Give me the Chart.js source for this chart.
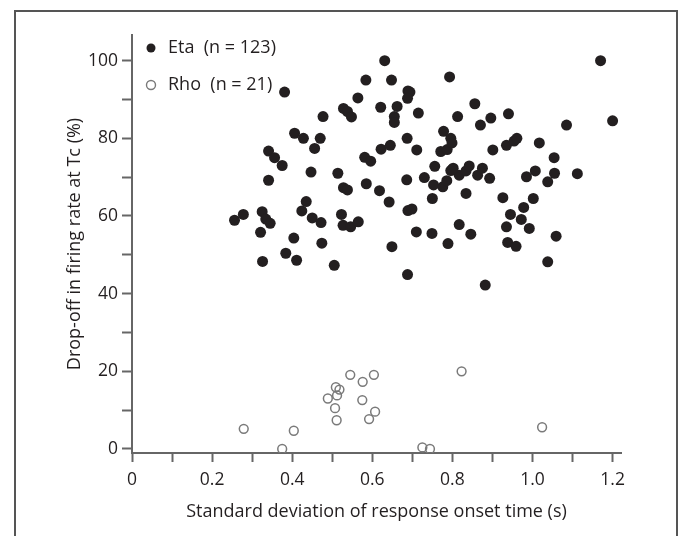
<!DOCTYPE html>
<html>
<head>
<meta charset="utf-8">
<script src="https://cdn.jsdelivr.net/npm/chart.js@4.4.1/dist/chart.umd.min.js"></script>
<style>
  html, body { margin: 0; padding: 0; background: #fff; overflow: hidden; }
  #wrap { position: relative; width: 679px; height: 536px; }
  #frame {
    position: absolute; left: 14px; top: 10px; width: 664px; height: 600px;
    box-sizing: border-box; border: 2px solid #555;
  }
  #chart { position: absolute; left: 0; top: 0; }
</style>
</head>
<body>
<div id="wrap">
  <div id="frame"></div>
  <canvas id="chart" width="679" height="536"></canvas>
</div>
<script>
///////////////////////////////
// Data
///////////////////////////////
const etaLabel = 'Eta  (n = 123)';
const rhoLabel = 'Rho  (n = 21)';

const etaX = [
  0.256, 0.278, 0.325, 0.321, 0.334, 0.345, 0.326, 0.341, 0.356, 0.341,
  0.375, 0.381, 0.384, 0.404, 0.411, 0.406, 0.428, 0.424, 0.435, 0.447,
  0.450, 0.456, 0.470, 0.472, 0.474, 0.477, 0.505, 0.514, 0.523, 0.527,
  0.528, 0.538, 0.548, 0.528, 0.538, 0.546, 0.565, 0.564, 0.584, 0.581,
  0.596, 0.585, 0.618, 0.621, 0.622, 0.631, 0.642, 0.645, 0.648, 0.655,
  0.655, 0.662, 0.649, 0.687, 0.686, 0.689, 0.694, 0.688, 0.689, 0.699,
  0.688, 0.710, 0.711, 0.715, 0.730, 0.750, 0.753, 0.756, 0.749, 0.771,
  0.778, 0.787, 0.793, 0.796, 0.799, 0.776, 0.786, 0.789, 0.796, 0.802,
  0.813, 0.817, 0.817, 0.834, 0.842, 0.834, 0.846, 0.856, 0.863, 0.870,
  0.875, 0.882, 0.893, 0.896, 0.901, 0.926, 0.935, 0.938, 0.935, 0.940,
  0.945, 0.954, 0.961, 0.959, 0.972, 0.978, 0.985, 0.992, 1.002, 1.007,
  1.017, 1.038, 1.038, 1.054, 1.055, 1.059, 1.085, 1.112, 1.170, 1.200,
  0.800
];
const etaY = [
  58.9, 60.4, 61.1, 55.8, 59.2, 58.1, 48.3, 76.7, 75.0, 69.2,
  73.0, 91.9, 50.4, 54.3, 48.6, 81.3, 80.0, 61.3, 63.7, 71.3,
  59.5, 77.4, 80.0, 58.3, 53.0, 85.6, 47.3, 71.0, 60.4, 57.6,
  87.7, 86.9, 85.5, 67.3, 66.7, 57.2, 58.5, 90.4, 95.0, 75.1,
  74.1, 68.3, 66.5, 88.0, 77.2, 100.0, 63.6, 78.2, 95.0, 85.6,
  84.1, 88.2, 52.1, 80.0, 69.3, 92.2, 91.9, 90.3, 61.4, 61.8,
  44.9, 55.9, 77.0, 86.5, 69.9, 64.5, 68.0, 72.8, 55.5, 76.6,
  81.8, 77.1, 95.8, 80.0, 78.8, 67.5, 69.1, 52.9, 71.7, 72.3,
  85.6, 70.5, 57.8, 71.6, 72.9, 65.8, 55.3, 88.9, 70.5, 83.4,
  72.3, 42.2, 69.7, 85.2, 77.0, 64.7, 57.2, 53.2, 78.2, 86.3,
  60.4, 79.3, 80.0, 52.2, 59.1, 62.2, 70.1, 56.8, 64.5, 71.6,
  78.8, 68.8, 48.2, 75.0, 71.0, 54.8, 83.4, 70.9, 100.0, 84.5,
  72.0
];

const rhoX = [
  0.279, 0.375, 0.404, 0.489, 0.509, 0.518, 0.512, 0.507, 0.511, 0.545,
  0.576, 0.604, 0.575, 0.607, 0.592, 0.725, 0.744, 0.823, 1.024
];
const rhoY = [
  5.2, 0.0, 4.7, 13.0, 15.9, 15.3, 13.8, 10.5, 7.4, 19.1,
  17.3, 19.1, 12.6, 9.6, 7.7, 0.4, 0.0, 20.0, 5.6
];

const xTicks = [0, 0.1, 0.2, 0.3, 0.4, 0.5, 0.6, 0.7, 0.8, 0.9, 1.0, 1.1, 1.2];
const xTickLabels = ['0', '', '0.2', '', '0.4', '', '0.6', '', '0.8', '', '1.0', '', '1.2'];
const yTicks = [0, 10, 20, 30, 40, 50, 60, 70, 80, 90, 100];
const yTickLabels = ['0', '', '20', '', '40', '', '60', '', '80', '', '100'];

const xTitle = 'Standard deviation of response onset time (s)';
const yTitle = 'Drop-off in firing rate at Tc (%)';

///////////////////////////////
// Styles
///////////////////////////////
const FONT = "'Open Sans', sans-serif";
const TEXT = '#231f20';
const AXIS = '#666';
const ETA_COLOR = '#231f20';
const RHO_COLOR = '#7a7a7a';

const toPoints = (xs, ys) => xs.map((x, i) => ({ x: x, y: ys[i] }));

///////////////////////////////
// Legend drawn inside the plot (top-left)
///////////////////////////////
const innerLegend = {
  id: 'innerLegend',
  afterDatasetsDraw(chart) {
    const ctx = chart.ctx;
    const area = chart.chartArea;
    const rows = [
      { ds: chart.data.datasets[0], y: area.top + 13 },
      { ds: chart.data.datasets[1], y: area.top + 50 }
    ];
    ctx.save();
    ctx.font = '18px ' + FONT;
    ctx.textBaseline = 'middle';
    ctx.textAlign = 'left';
    rows.forEach((row) => {
      ctx.beginPath();
      ctx.arc(area.left + 19, row.y, 4.5, 0, Math.PI * 2);
      if (row.ds.backgroundColor !== 'rgba(0,0,0,0)') {
        ctx.fillStyle = row.ds.backgroundColor;
        ctx.fill();
      } else {
        ctx.lineWidth = 1.4;
        ctx.strokeStyle = row.ds.borderColor;
        ctx.stroke();
      }
      ctx.fillStyle = TEXT;
      ctx.fillText(row.ds.label, area.left + 36, row.y);
    });
    ctx.restore();
  }
};

///////////////////////////////
// Chart
///////////////////////////////
new Chart(document.getElementById('chart'), {
  type: 'scatter',
  data: {
    datasets: [
      {
        label: etaLabel,
        data: toPoints(etaX, etaY),
        backgroundColor: ETA_COLOR,
        borderColor: ETA_COLOR,
        borderWidth: 0,
        pointRadius: 5.5
      },
      {
        label: rhoLabel,
        data: toPoints(rhoX, rhoY),
        backgroundColor: 'rgba(0,0,0,0)',
        borderColor: RHO_COLOR,
        borderWidth: 1.5,
        pointRadius: 4.4
      }
    ]
  },
  options: {
    responsive: false,
    animation: false,
    events: [],
    layout: { padding: { left: 60, top: 35, right: 58, bottom: 9 } },
    plugins: {
      legend: { display: false },
      tooltip: { enabled: false }
    },
    scales: {
      x: {
        type: 'linear',
        min: 0,
        max: 1.221,
        afterFit(scale) { scale.height = 74; },
        afterBuildTicks(scale) { scale.ticks = xTicks.map((v) => ({ value: v })); },
        grid: { drawOnChartArea: false, drawTicks: true, tickLength: 9, tickColor: AXIS, tickWidth: 2 },
        border: { display: true, color: AXIS, width: 2 },
        ticks: {
          autoSkip: false,
          maxRotation: 0,
          padding: 8,
          color: TEXT,
          font: { family: FONT, size: 17.5 },
          callback: (value, index) => xTickLabels[index]
        },
        title: {
          display: true,
          text: xTitle,
          color: TEXT,
          font: { family: FONT, size: 18 },
          padding: { top: 4, bottom: 4 }
        }
      },
      y: {
        type: 'linear',
        min: -1.03,
        max: 106.6,
        afterFit(scale) { scale.width = 72; },
        afterBuildTicks(scale) { scale.ticks = yTicks.map((v) => ({ value: v })); },
        grid: { drawOnChartArea: false, drawTicks: true, tickLength: 10, tickColor: AXIS, tickWidth: 2 },
        border: { display: true, color: AXIS, width: 2 },
        ticks: {
          autoSkip: false,
          padding: 4,
          color: TEXT,
          font: { family: FONT, size: 17.5 },
          callback: (value, index) => yTickLabels[index]
        },
        title: {
          display: true,
          text: yTitle,
          color: TEXT,
          font: { family: FONT, size: 18 },
          padding: { top: 4, bottom: 4 }
        }
      }
    }
  },
  plugins: [innerLegend]
});
</script>
</body>
</html>
